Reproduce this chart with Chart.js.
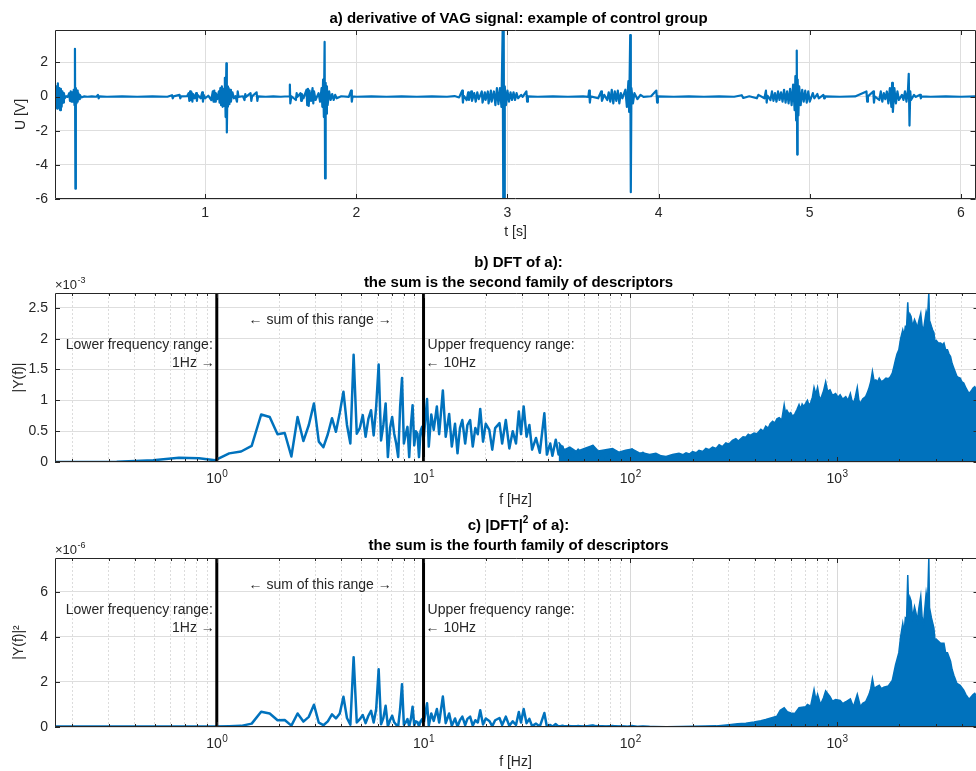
<!DOCTYPE html>
<html>
<head>
<meta charset="utf-8">
<script src="https://cdn.jsdelivr.net/npm/chart.js@4.4.1/dist/chart.umd.min.js"></script>
<style>
  html, body { margin: 0; padding: 0; background: #fff; }
  #wrap { position: relative; width: 976px; height: 771px; overflow: hidden; }
  canvas { position: absolute; left: 0; }
</style>
</head>
<body>
<div id="wrap">
  <canvas id="chartA" width="976" height="250" style="top:0px"></canvas>
  <canvas id="chartB" width="976" height="260" style="top:250px"></canvas>
  <canvas id="chartC" width="976" height="261" style="top:510px"></canvas>
</div>
<script>
const FONT = "'Liberation Sans', Arial, Helvetica, sans-serif";
const BLUE = "#0072BD";
const INK = "#262626";
const GRID = "#dedede";

// a) derivative of the VAG signal, [t (s), U (V)]
const vagSignal = [
  [0.000, 0], [0.005, 0.3], [0.010, -0.4], [0.015, 0.6], [0.020, -0.7], [0.025, 0.78], [0.030, -0.5],
  [0.035, 0.5], [0.040, -0.8], [0.045, 0.45], [0.050, -0.6], [0.055, 0.3], [0.060, -0.35], [0.065, 0.2],
  [0.070, -0.1], [0.080, 0.02], [0.090, -0.02], [0.100, 0.2], [0.105, -0.25], [0.110, 0.3], [0.115, -0.3],
  [0.120, 0.25], [0.125, -0.3], [0.130, 0.4], [0.135, -0.5], [0.138, 2.8], [0.141, -5.4], [0.144, 0.5],
  [0.148, -0.4], [0.152, 0.35], [0.156, -0.3], [0.160, 0.2], [0.165, -0.15], [0.170, 0.1], [0.180, -0.05],
  [0.200, 0.01], [0.220, -0.01], [0.250, 0.01], [0.280, -0.01], [0.290, 0.1], [0.295, -0.1], [0.300, 0.01],
  [0.350, -0.01], [0.450, 0.01], [0.550, -0.01], [0.650, 0.01], [0.750, -0.01], [0.780, 0.08], [0.785, -0.1],
  [0.790, 0.01], [0.830, 0.1], [0.835, -0.1], [0.840, 0.01], [0.880, 0.02], [0.890, 0.2], [0.895, -0.25],
  [0.900, 0.3], [0.905, -0.2], [0.910, 0.25], [0.915, -0.3], [0.920, 0.15], [0.930, -0.1], [0.940, 0.2],
  [0.945, -0.25], [0.950, 0.1], [0.970, -0.1], [0.980, 0.25], [0.985, -0.3], [0.990, 0.1], [1.000, -0.1],
  [1.020, 0.05], [1.040, -0.2], [1.050, 0.3], [1.055, -0.3], [1.060, 0.35], [1.065, -0.3], [1.070, 0.2],
  [1.080, -0.15], [1.090, 0.3], [1.095, -0.35], [1.100, 0.5], [1.105, -0.5], [1.110, 0.6], [1.115, -0.6],
  [1.120, 0.45], [1.125, -0.55], [1.130, 1.1], [1.135, -1.2], [1.140, 1.95], [1.143, -2.1], [1.147, 0.6],
  [1.150, -0.6], [1.155, 0.5], [1.160, -0.45], [1.165, 0.4], [1.170, -0.3], [1.180, 0.25], [1.190, -0.1],
  [1.200, 0.02], [1.210, -0.3], [1.215, 0.3], [1.220, -0.02], [1.250, 0.02], [1.260, -0.2], [1.265, 0.15],
  [1.270, -0.02], [1.300, 0.2], [1.305, -0.25], [1.310, 0.01], [1.340, 0.25], [1.345, -0.25], [1.350, 0.01],
  [1.400, -0.01], [1.450, 0.01], [1.500, -0.01], [1.555, 0.02], [1.560, 0.7], [1.563, -0.4], [1.570, 0.02],
  [1.600, -0.2], [1.605, 0.2], [1.610, -0.02], [1.630, 0.2], [1.635, -0.25], [1.640, 0.15], [1.650, -0.1],
  [1.670, 0.4], [1.675, -0.5], [1.680, 0.45], [1.685, -0.55], [1.690, 0.35], [1.700, -0.25], [1.710, 0.5],
  [1.715, -0.4], [1.720, 0.3], [1.730, -0.2], [1.750, 0.2], [1.760, -0.3], [1.770, 0.5], [1.775, -0.6],
  [1.780, 1.0], [1.785, -1.2], [1.790, 3.2], [1.793, -4.8], [1.797, 0.8], [1.800, -1.0], [1.805, 0.6],
  [1.810, -0.5], [1.820, 0.3], [1.830, -0.2], [1.840, 0.15], [1.850, -0.2], [1.860, 0.1], [1.870, -0.1],
  [1.900, 0.02], [1.950, -0.02], [1.965, 0.35], [1.970, -0.3], [1.975, 0.01], [2.000, -0.01], [2.100, 0.01],
  [2.200, -0.01], [2.300, 0.01], [2.400, -0.01], [2.500, 0.01], [2.600, -0.01], [2.650, 0.03], [2.680, -0.05],
  [2.700, 0.35], [2.705, -0.35], [2.710, 0.05], [2.730, -0.2], [2.740, 0.25], [2.745, -0.2], [2.760, 0.3],
  [2.765, -0.25], [2.780, 0.2], [2.790, -0.3], [2.800, 0.25], [2.810, -0.15], [2.830, 0.3], [2.835, -0.35],
  [2.850, 0.25], [2.855, -0.2], [2.870, 0.3], [2.875, -0.4], [2.890, 0.35], [2.895, -0.3], [2.910, 0.3],
  [2.920, -0.5], [2.930, 0.5], [2.940, -0.45], [2.950, 0.5], [2.960, -0.6], [2.968, 3.9], [2.972, -6.0],
  [2.975, 3.9], [2.978, -6.0], [2.982, 0.6], [2.990, -0.5], [3.000, 0.35], [3.010, -0.3], [3.020, 0.25],
  [3.030, -0.2], [3.040, 0.25], [3.050, -0.2], [3.060, 0.2], [3.070, -0.1], [3.090, 0.1], [3.100, -0.02],
  [3.125, 0.3], [3.130, -0.3], [3.135, 0.01], [3.200, -0.01], [3.300, 0.01], [3.400, -0.01], [3.500, 0.01],
  [3.535, -0.02], [3.540, 0.35], [3.545, -0.35], [3.550, 0.01], [3.600, -0.1], [3.620, 0.3], [3.625, -0.25],
  [3.640, 0.1], [3.660, -0.2], [3.670, 0.25], [3.680, -0.3], [3.690, 0.4], [3.700, -0.4], [3.710, 0.3],
  [3.720, -0.25], [3.730, 0.35], [3.740, -0.4], [3.750, 0.2], [3.760, -0.1], [3.780, 0.4], [3.790, -0.6],
  [3.800, 0.9], [3.805, -0.9], [3.812, 3.6], [3.816, -5.6], [3.820, 0.5], [3.830, -0.4], [3.840, 0.2],
  [3.860, -0.15], [3.880, 0.1], [3.900, -0.02], [3.950, 0.02], [3.985, 0.35], [3.990, -0.35], [3.995, 0.01],
  [4.100, -0.01], [4.200, 0.01], [4.300, -0.01], [4.400, 0.01], [4.500, -0.01], [4.550, 0.08], [4.560, -0.08],
  [4.600, 0.02], [4.650, -0.1], [4.660, 0.1], [4.700, -0.1], [4.710, 0.35], [4.715, -0.35], [4.720, 0.05],
  [4.740, -0.2], [4.750, 0.3], [4.760, -0.25], [4.770, 0.2], [4.780, -0.3], [4.790, 0.3], [4.800, -0.2],
  [4.810, 0.25], [4.820, -0.3], [4.830, 0.4], [4.840, -0.35], [4.850, 0.3], [4.860, -0.4], [4.870, 0.45],
  [4.880, -0.5], [4.890, 0.7], [4.900, -0.8], [4.905, 1.2], [4.910, -1.4], [4.914, 2.7], [4.917, -3.4],
  [4.920, 1.0], [4.925, -1.1], [4.930, 0.6], [4.940, -0.5], [4.950, 0.4], [4.960, -0.3], [4.970, 0.35],
  [4.980, -0.35], [4.990, 0.3], [5.000, -0.3], [5.020, 0.2], [5.030, -0.1], [5.050, 0.15], [5.060, -0.1],
  [5.090, 0.1], [5.095, -0.1], [5.100, 0.01], [5.200, -0.01], [5.300, 0.01], [5.375, 0.3], [5.380, -0.3],
  [5.385, 0.01], [5.420, 0.3], [5.425, -0.35], [5.430, 0.01], [5.460, -0.2], [5.470, 0.3], [5.480, -0.3],
  [5.490, 0.2], [5.500, -0.15], [5.510, 0.3], [5.520, -0.4], [5.530, 0.5], [5.540, -0.6], [5.545, 0.8],
  [5.550, -0.9], [5.560, 0.5], [5.570, -0.4], [5.580, 0.3], [5.590, -0.2], [5.610, 0.1], [5.620, -0.2],
  [5.630, 0.3], [5.640, -0.3], [5.650, 0.4], [5.655, 1.33], [5.660, -1.7], [5.665, 0.3], [5.670, -0.2],
  [5.690, 0.1], [5.700, -0.02], [5.730, 0.1], [5.735, -0.1], [5.740, 0.01], [5.800, -0.01], [5.900, 0.01],
  [6.000, -0.01], [6.100, 0.01]
];
const timeTicks = [1, 2, 3, 4, 5, 6];
const voltTicks = [-6, -4, -2, 0, 2];

// b) |DFT| in units of 1e-3, [f (Hz), value]
const specB = [
  [0.164, 0.00], [0.328, 0.005], [0.492, 0.03], [0.656, 0.07], [0.820, 0.06], [0.984, 0.03],
  [1.148, 0.14], [1.311, 0.17], [1.475, 0.26], [1.639, 0.77], [1.803, 0.73], [1.967, 0.45], [2.131, 0.47],
  [2.295, 0.09], [2.459, 0.73], [2.623, 0.34], [2.787, 0.6], [2.951, 0.95], [3.115, 0.33], [3.279, 0.24],
  [3.443, 0.45], [3.607, 0.71], [3.770, 0.49], [3.934, 0.8], [4.098, 1.14], [4.262, 0.6], [4.426, 0.30],
  [4.590, 1.74], [4.754, 0.46], [4.918, 0.55], [5.082, 0.76], [5.246, 0.41], [5.410, 0.7], [5.574, 0.84],
  [5.738, 0.43], [5.902, 0.9], [6.066, 1.58], [6.230, 0.35], [6.393, 0.6], [6.557, 0.95], [6.721, 0.08],
  [6.885, 0.55], [7.049, 0.73], [7.213, 0.46], [7.377, 0.3], [7.541, 0.08], [7.705, 0.9], [7.869, 1.36],
  [8.033, 0.30], [8.197, 0.45], [8.361, 0.57], [8.525, 0.08], [8.689, 0.6], [8.852, 0.92], [9.016, 0.27],
  [9.180, 0.5], [9.344, 0.46], [9.508, 0.08], [9.672, 0.5], [9.836, 0.57], [10.0, 0.35],
  [10.4, 1.02], [10.6, 0.25], [10.9, 0.77], [11.2, 0.52], [11.6, 0.9], [11.9, 0.45], [12.4, 1.16],
  [12.8, 0.41], [13.3, 0.78], [13.7, 0.25], [14.2, 0.62], [14.6, 0.14], [15.0, 0.55], [15.4, 0.68],
  [15.9, 0.3], [16.3, 0.6], [16.8, 0.68], [17.3, 0.25], [17.8, 0.55], [18.3, 0.45], [18.8, 0.86],
  [19.4, 0.33], [20.0, 0.62], [20.8, 0.52], [21.5, 0.2], [22.2, 0.55], [23.3, 0.63], [24.0, 0.3],
  [25.0, 0.68], [26.0, 0.22], [27.0, 0.5], [28.0, 0.3], [28.9, 0.82], [29.6, 0.45], [30.5, 0.9],
  [31.5, 0.41], [32.5, 0.6], [33.5, 0.2], [35.0, 0.39], [36.5, 0.15], [38.4, 0.79], [39.5, 0.12],
  [41.0, 0.3], [42.0, 0.1], [43.6, 0.36], [45.0, 0.12], [47.0, 0.25], [48.5, 0.05], [50.7, 0.21],
  [53.0, 0.09], [56.0, 0.2], [59.0, 0.04], [62.0, 0.18], [65.8, 0.26], [69.0, 0.05], [73.0, 0.17],
  [77.0, 0.03], [82.0, 0.2], [87.0, 0.04], [92.0, 0.15], [97.0, 0.03], [102, 0.2], [108, 0.05],
  [115, 0.15], [124, 0.03]
];
// b) dense upper envelope of the high-frequency band
const envB = [
  [45, 0.32], [48, 0.2], [51, 0.24], [55, 0.17], [60, 0.22], [66, 0.27], [70, 0.18], [76, 0.2], [82, 0.22],
  [88, 0.16], [95, 0.19], [102, 0.21], [110, 0.15], [117, 0.14], [124, 0.12], [133, 0.14], [141, 0.1],
  [149, 0.09], [160, 0.12], [172, 0.14], [180, 0.12], [186, 0.15], [193, 0.13], [200, 0.17], [208, 0.15],
  [215, 0.19], [224, 0.17], [232, 0.22], [241, 0.2], [250, 0.24], [260, 0.22], [269, 0.28], [279, 0.25],
  [290, 0.31], [300, 0.29], [312, 0.35], [324, 0.38], [333, 0.34], [340, 0.37], [351, 0.41], [362, 0.4],
  [372, 0.45], [380, 0.43], [397, 0.47], [410, 0.46], [428, 0.53], [440, 0.5], [452, 0.58], [465, 0.55],
  [475, 0.62], [488, 0.66], [500, 0.63], [512, 0.7], [525, 0.72], [540, 0.68], [555, 0.93], [563, 0.8],
  [572, 0.84], [585, 0.78], [597, 0.8], [610, 0.74], [625, 0.78], [640, 0.85], [655, 0.93], [667, 0.86],
  [678, 0.94], [690, 0.9], [705, 0.95], [719, 1.0], [732, 0.92], [745, 0.96], [760, 1.05], [774, 1.21],
  [790, 1.1], [805, 1.21], [818, 1.08], [832, 1.0], [845, 1.08], [860, 1.15], [881, 1.3], [900, 1.15],
  [925, 1.17], [950, 1.08], [984, 1.11], [1010, 1.05], [1035, 1.09], [1065, 1.02], [1102, 1.06],
  [1130, 1.0], [1160, 1.11], [1180, 1.0], [1200, 0.95], [1225, 1.05], [1253, 1.21], [1275, 1.0],
  [1298, 0.95], [1330, 1.02], [1375, 1.06], [1400, 1.12], [1430, 1.21], [1455, 1.3], [1483, 1.47],
  [1510, 1.32], [1540, 1.33], [1570, 1.3], [1600, 1.36], [1640, 1.3], [1683, 1.33], [1725, 1.36],
  [1770, 1.35], [1810, 1.38], [1850, 1.44], [1885, 1.55], [1918, 1.66], [1950, 1.75], [1990, 1.82],
  [2030, 2.0], [2079, 2.14], [2110, 2.05], [2140, 2.2], [2170, 2.2], [2198, 2.59], [2220, 2.3],
  [2250, 2.4], [2280, 2.36], [2320, 2.2], [2370, 2.31], [2410, 2.25], [2444, 2.17], [2490, 2.3],
  [2540, 2.41], [2580, 2.2], [2620, 2.14], [2660, 2.3], [2698, 2.44], [2740, 2.35], [2779, 2.74],
  [2800, 2.3], [2830, 2.25], [2860, 2.2], [2900, 2.14], [2940, 2.1], [2980, 1.95], [3020, 1.97],
  [3090, 1.93], [3170, 1.93], [3230, 1.9], [3290, 1.93], [3350, 1.82], [3420, 1.82], [3480, 1.75],
  [3540, 1.71], [3600, 1.6], [3673, 1.52], [3740, 1.45], [3800, 1.39], [3870, 1.37], [3940, 1.36],
  [4020, 1.3], [4100, 1.28], [4200, 1.2], [4350, 1.11], [4450, 1.15], [4550, 1.2], [4634, 1.22], [4700, 1.18]
];

// c) |DFT|^2 in units of 1e-6, [f (Hz), value]
const specC = [
  [0.164, 0.02], [0.328, 0.02], [0.492, 0.02], [0.656, 0.02], [0.820, 0.02], [0.984, 0.02],
  [1.148, 0.03], [1.311, 0.05], [1.475, 0.15], [1.639, 0.68], [1.803, 0.6], [1.967, 0.3], [2.131, 0.31],
  [2.295, 0.06], [2.459, 0.6], [2.623, 0.24], [2.787, 0.45], [2.951, 0.99], [3.115, 0.19], [3.279, 0.08],
  [3.443, 0.25], [3.607, 0.56], [3.770, 0.38], [3.934, 0.6], [4.098, 1.34], [4.262, 0.4], [4.426, 0.1],
  [4.590, 3.1], [4.754, 0.2], [4.918, 0.35], [5.082, 0.53], [5.246, 0.17], [5.410, 0.5], [5.574, 0.72],
  [5.738, 0.2], [5.902, 0.8], [6.066, 2.56], [6.230, 0.12], [6.393, 0.4], [6.557, 0.94], [6.721, 0.03],
  [6.885, 0.3], [7.049, 0.5], [7.213, 0.21], [7.377, 0.1], [7.541, 0.03], [7.705, 0.8], [7.869, 1.9],
  [8.033, 0.1], [8.197, 0.2], [8.361, 0.35], [8.525, 0.03], [8.689, 0.36], [8.852, 0.9], [9.016, 0.08],
  [9.180, 0.25], [9.344, 0.22], [9.508, 0.03], [9.672, 0.25], [9.836, 0.35], [10.0, 0.12],
  [10.4, 1.05], [10.6, 0.06], [10.9, 0.6], [11.2, 0.27], [11.6, 0.8], [11.9, 0.2], [12.4, 1.35],
  [12.8, 0.17], [13.3, 0.6], [13.7, 0.06], [14.2, 0.38], [14.6, 0.02], [15.0, 0.3], [15.4, 0.46],
  [15.9, 0.09], [16.3, 0.36], [16.8, 0.46], [17.3, 0.06], [17.8, 0.3], [18.3, 0.2], [18.8, 0.74],
  [19.4, 0.11], [20.0, 0.38], [20.8, 0.27], [21.5, 0.04], [22.2, 0.3], [23.3, 0.4], [24.0, 0.09],
  [25.0, 0.46], [26.0, 0.05], [27.0, 0.25], [28.0, 0.09], [28.9, 0.67], [29.6, 0.2], [30.5, 0.8],
  [31.5, 0.17], [32.5, 0.36], [33.5, 0.04], [35.0, 0.15], [36.5, 0.02], [38.4, 0.62], [39.5, 0.01],
  [41.0, 0.09], [42.0, 0.01], [43.6, 0.13], [45.0, 0.01], [47.0, 0.06], [48.5, 0.0], [50.7, 0.04],
  [53.0, 0.01], [56.0, 0.04], [59.0, 0.0], [62.0, 0.03], [65.8, 0.07], [69.0, 0.0], [73.0, 0.03],
  [77.0, 0.0], [82.0, 0.04], [87.0, 0.0], [92.0, 0.02], [97.0, 0.0], [102, 0.04], [108, 0.0],
  [115, 0.02], [124, 0.0]
];
const envC = [
  [45, 0.05], [50, 0.06], [60, 0.04], [66, 0.07], [75, 0.04], [82, 0.05], [95, 0.03], [110, 0.02],
  [130, 0.02], [150, 0.01], [175, 0.02], [200, 0.03], [230, 0.04], [260, 0.05], [300, 0.1], [330, 0.14],
  [362, 0.17], [397, 0.22], [428, 0.28], [452, 0.33], [488, 0.42], [512, 0.48], [531, 0.74], [555, 0.85],
  [575, 0.68], [597, 0.62], [625, 0.6], [655, 0.86], [678, 0.88], [705, 0.9], [719, 1.0], [745, 0.92],
  [774, 1.66], [790, 1.2], [805, 1.46], [832, 1.0], [860, 1.3], [881, 1.6], [925, 1.35], [950, 1.15],
  [984, 1.22], [1035, 1.18], [1065, 1.04], [1102, 1.12], [1160, 1.25], [1200, 0.9], [1253, 1.45],
  [1298, 0.9], [1330, 1.05], [1375, 1.12], [1430, 1.46], [1455, 1.7], [1483, 2.15], [1510, 1.75],
  [1540, 1.77], [1600, 1.85], [1640, 1.7], [1683, 1.77], [1770, 1.82], [1850, 2.07], [1918, 2.75],
  [1990, 3.3], [2030, 4.0], [2079, 4.6], [2110, 4.2], [2140, 4.85], [2170, 4.8], [2198, 6.74],
  [2220, 5.3], [2250, 5.76], [2280, 5.6], [2320, 4.85], [2370, 5.34], [2410, 5.05], [2444, 4.7],
  [2490, 5.3], [2540, 5.8], [2580, 4.85], [2620, 4.6], [2660, 5.3], [2698, 5.95], [2740, 5.5],
  [2779, 7.5], [2800, 5.3], [2860, 4.85], [2940, 4.4], [2980, 3.8], [3020, 3.9], [3170, 3.72],
  [3290, 3.72], [3350, 3.3], [3420, 3.3], [3540, 2.92], [3600, 2.56], [3673, 2.3], [3800, 1.93],
  [3940, 1.85], [4100, 1.64], [4200, 1.44], [4350, 1.23], [4550, 1.44], [4634, 1.49], [4700, 1.4]
];

const magTicks = [0, 0.5, 1, 1.5, 2, 2.5];
const powTicks = [0, 2, 4, 6];
const decadeTicks = [1, 10, 100, 1000];
const decadeExps = ["0", "1", "2", "3"];
const logMults = [1, 2, 3, 4, 5, 6, 7, 8, 9];
const rangeEdges = [1, 10];
const F_MIN = 0.165, F_MAX = 4700;

const logTicks = [];
[0.1, 1, 10, 100, 1000].forEach(d => logMults.forEach(m => {
  const v = +(d * m).toPrecision(3);
  if (v >= F_MIN && v <= F_MAX) logTicks.push(v);
}));

const pts = arr => arr.map(p => ({ x: p[0], y: p[1] }));

// MATLAB-like box, inner ticks, titles and text labels
function decor(cfg) {
  return {
    id: "decor",
    afterDraw(chart) {
      const { ctx, chartArea: a, scales: { x, y } } = chart;
      const cx = (a.left + a.right) / 2 + 3;
      ctx.save();
      ctx.strokeStyle = INK;
      ctx.lineWidth = 1;
      const rightX = cfg.rightVisible ? a.right - 0.5 : a.right + 2.5;
      ctx.beginPath();
      ctx.moveTo(rightX, a.top + 0.5);
      ctx.lineTo(a.left + 0.5, a.top + 0.5);
      ctx.lineTo(a.left + 0.5, a.bottom - 0.5);
      ctx.lineTo(rightX, a.bottom - 0.5);
      ctx.lineTo(rightX, a.top + 0.5);
      ctx.stroke();

      ctx.beginPath();
      x.ticks.forEach(t => {
        const px = Math.round(x.getPixelForValue(t.value)) + 0.5;
        const l = cfg.log && !t.major ? 3 : 5;
        ctx.moveTo(px, a.bottom); ctx.lineTo(px, a.bottom - l);
        ctx.moveTo(px, a.top); ctx.lineTo(px, a.top + l);
      });
      y.ticks.forEach(t => {
        const py = Math.round(y.getPixelForValue(t.value)) + 0.5;
        ctx.moveTo(a.left, py); ctx.lineTo(a.left + 5, py);
        ctx.moveTo(rightX, py); ctx.lineTo(rightX - 5, py);
      });
      ctx.stroke();

      ctx.fillStyle = "#000";
      ctx.textBaseline = "middle";
      cfg.title.forEach((line, i) => {
        ctx.font = "bold 15px " + FONT;
        if (typeof line === "object") {
          ctx.textAlign = "left";
          const w1 = ctx.measureText(line.pre).width;
          ctx.font = "bold 10px " + FONT;
          const w2 = ctx.measureText(line.raised).width;
          ctx.font = "bold 15px " + FONT;
          const w3 = ctx.measureText(line.post).width;
          const x0 = cx - (w1 + w2 + w3) / 2;
          ctx.fillText(line.pre, x0, cfg.titleY[i]);
          ctx.font = "bold 10px " + FONT;
          ctx.fillText(line.raised, x0 + w1, cfg.titleY[i] - 6);
          ctx.font = "bold 15px " + FONT;
          ctx.fillText(line.post, x0 + w1 + w2, cfg.titleY[i]);
        } else {
          ctx.textAlign = "center";
          ctx.fillText(line, cx, cfg.titleY[i]);
        }
      });

      ctx.fillStyle = INK;
      if (cfg.exp) {
        ctx.textAlign = "left";
        ctx.textBaseline = "alphabetic";
        ctx.font = "13px " + FONT;
        ctx.fillText("\u00d710", a.left, a.top - 4);
        const w = ctx.measureText("\u00d710").width;
        ctx.font = "9px " + FONT;
        ctx.fillText(cfg.exp, a.left + w + 0.5, a.top - 10);
      }

      if (cfg.log) {
        ctx.textAlign = "left";
        ctx.textBaseline = "alphabetic";
        decadeTicks.forEach((v, i) => {
          const px = x.getPixelForValue(v);
          ctx.font = "14px " + FONT;
          const w1 = ctx.measureText("10").width;
          ctx.font = "10px " + FONT;
          const w2 = ctx.measureText(decadeExps[i]).width;
          const x0 = px - (w1 + w2) / 2;
          ctx.font = "14px " + FONT;
          ctx.fillText("10", x0, a.bottom + cfg.labelDy);
          ctx.font = "10px " + FONT;
          ctx.fillText(decadeExps[i], x0 + w1 + 0.5, a.bottom + cfg.labelDy - 6);
        });

        const p1 = x.getPixelForValue(rangeEdges[0]);
        const p10 = x.getPixelForValue(rangeEdges[1]);
        const pm = x.getPixelForValue(Math.sqrt(rangeEdges[0] * rangeEdges[1]));
        ctx.font = "14px " + FONT;
        ctx.textBaseline = "middle";
        ctx.textAlign = "center";
        ctx.fillText("\u2190 sum of this range \u2192", pm, a.top + 27);
        ctx.textAlign = "right";
        ctx.fillText("Lower frequency range:", p1 - 4, a.top + 52);
        ctx.fillText("1Hz \u2192", p1 - 2, a.top + 70);
        ctx.textAlign = "left";
        ctx.fillText("Upper frequency range:", p10 + 4, a.top + 52);
        ctx.fillText("\u2190 10Hz", p10 + 2, a.top + 70);
      }
      ctx.restore();
    }
  };
}

const tickFont = { family: FONT, size: 14 };

function yAxis(min, max, ticks, title, titlePad) {
  return {
    min: min, max: max,
    afterBuildTicks: s => { s.ticks = ticks.map(v => ({ value: v })); },
    afterFit: s => { s.width = 55; },
    grid: { color: GRID, drawTicks: false },
    border: { display: false },
    ticks: { color: INK, font: tickFont, padding: 7, callback: v => String(v) },
    title: { display: true, text: title, color: INK, font: tickFont, padding: { top: titlePad, bottom: 0 } }
  };
}

function logAxis(height, titlePad) {
  return {
    type: "logarithmic", min: F_MIN, max: F_MAX,
    afterBuildTicks: s => { s.ticks = logTicks.map(v => ({ value: v, major: decadeTicks.includes(v) })); },
    afterFit: s => { s.height = height; },
    grid: {
      drawTicks: false,
      color: c => (c.tick && c.tick.major ? "#d8d8d8" : "#dcdcdc")
    },
    border: { display: false, dash: c => (c.tick && c.tick.major ? [] : [2, 2]) },
    ticks: { display: false },
    title: { display: true, text: "f [Hz]", color: INK, font: tickFont, padding: { top: 0, bottom: titlePad } }
  };
}

function edgeSets(yMax) {
  return rangeEdges.map(f => ({
    data: [{ x: f, y: 0 }, { x: f, y: yMax }],
    borderColor: "#000", borderWidth: 3, pointRadius: 0
  }));
}

const common = {
  responsive: false,
  animation: false,
  devicePixelRatio: 1,
  plugins: { legend: { display: false }, tooltip: { enabled: false } }
};

new Chart(document.getElementById("chartA"), {
  type: "line",
  data: {
    datasets: [{
      data: pts(vagSignal), borderColor: BLUE, borderWidth: 2.2, pointRadius: 0,
      borderJoinStyle: "round", tension: 0
    }]
  },
  options: Object.assign({}, common, {
    layout: { padding: { top: 30, left: 0, right: 0, bottom: 0 } },
    scales: {
      x: {
        type: "linear", min: 0.006, max: 6.1,
        afterBuildTicks: s => { s.ticks = timeTicks.map(v => ({ value: v })); },
        afterFit: s => { s.height = 51; },
        grid: { color: GRID, drawTicks: false },
        border: { display: false },
        ticks: { color: INK, font: tickFont, padding: 6, maxRotation: 0, autoSkip: false, callback: v => String(v) },
        title: { display: true, text: "t [s]", color: INK, font: tickFont, padding: { top: 0, bottom: 9 } }
      },
      y: yAxis(-6, 3.9, voltTicks, "U [V]", 13)
    }
  }),
  plugins: [decor({ title: ["a) derivative of VAG signal: example of control group"], titleY: [19], rightVisible: true })]
});

new Chart(document.getElementById("chartB"), {
  type: "line",
  data: {
    datasets: edgeSets(2.74).concat([
      { data: pts(specB), borderColor: BLUE, borderWidth: 2.5, pointRadius: 0, borderJoinStyle: "round" },
      { data: pts(envB), borderColor: BLUE, backgroundColor: BLUE, borderWidth: 1.5, pointRadius: 0, fill: "origin" }
    ])
  },
  options: Object.assign({}, common, {
    layout: { padding: { top: 43, left: 0, right: 0, bottom: 0 } },
    scales: {
      x: logAxis(48, 1),
      y: yAxis(0, 2.74, magTicks, "|Y(f)|", 11)
    }
  }),
  plugins: [decor({
    title: ["b) DFT of a):", "the sum is the second family of descriptors"],
    titleY: [13, 33], exp: "-3", log: true, labelDy: 21
  })]
});

new Chart(document.getElementById("chartC"), {
  type: "line",
  data: {
    datasets: edgeSets(7.5).concat([
      { data: pts(specC), borderColor: BLUE, borderWidth: 2.5, pointRadius: 0, borderJoinStyle: "round" },
      { data: pts(envC), borderColor: BLUE, backgroundColor: BLUE, borderWidth: 1.5, pointRadius: 0, fill: "origin" }
    ])
  },
  options: Object.assign({}, common, {
    layout: { padding: { top: 48, left: 0, right: 0, bottom: 0 } },
    scales: {
      x: logAxis(44, 0),
      y: yAxis(0, 7.5, powTicks, "|Y(f)|\u00b2", 11)
    }
  }),
  plugins: [decor({
    title: [{ pre: "c) |DFT|", raised: "2", post: " of a):" }, "the sum is the fourth family of descriptors"],
    titleY: [16, 36], exp: "-6", log: true, labelDy: 21
  })]
});
</script>
</body>
</html>
